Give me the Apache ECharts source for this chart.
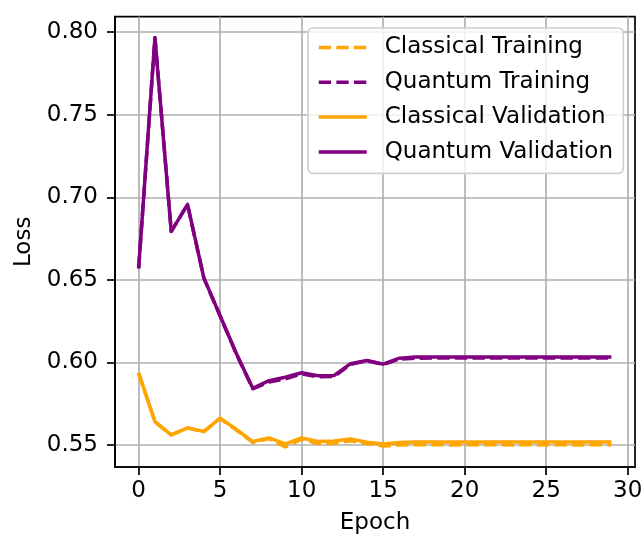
<!DOCTYPE html>
<html>
<head>
<meta charset="utf-8">
<script src="https://cdn.jsdelivr.net/npm/echarts@6/dist/echarts.min.js"></script>
<style>
html,body{margin:0;padding:0;background:#fff;}
#chart{width:644px;height:539px;}
</style>
</head>
<body>
<div id="chart"></div>
<script>
const epochs = Array.from({length: 30}, (_, i) => i);
const classicalTraining = [0.5934,0.5640,0.5560,0.5602,0.5580,0.5660,0.5590,0.5515,0.5538,0.5488,0.5535,0.5508,0.5510,0.5525,0.5508,0.5493,0.5500,0.5501,0.5501,0.5500,0.5501,0.5500,0.5501,0.5500,0.5501,0.5500,0.5501,0.5500,0.5501,0.5500];
const quantumTraining = [0.6570,0.7965,0.6795,0.6955,0.6510,0.6280,0.6050,0.5840,0.5880,0.5900,0.5930,0.5912,0.5915,0.5988,0.6010,0.5987,0.6020,0.6025,0.6026,0.6026,0.6026,0.6026,0.6026,0.6026,0.6026,0.6026,0.6026,0.6026,0.6026,0.6026];
const classicalValidation = [0.5936,0.5641,0.5561,0.5603,0.5581,0.5662,0.5593,0.5520,0.5542,0.5506,0.5542,0.5520,0.5523,0.5536,0.5516,0.5506,0.5514,0.5518,0.5518,0.5518,0.5518,0.5518,0.5518,0.5518,0.5518,0.5518,0.5518,0.5518,0.5518,0.5518];
const quantumValidation = [0.6570,0.7968,0.6792,0.6957,0.6512,0.6282,0.6052,0.5843,0.5889,0.5910,0.5937,0.5919,0.5921,0.5992,0.6011,0.5989,0.6025,0.6032,0.6033,0.6033,0.6033,0.6033,0.6033,0.6033,0.6033,0.6033,0.6033,0.6033,0.6033,0.6033];
const xTicks = [0,5,10,15,20,25,30];
const yTicks = [0.55,0.60,0.65,0.70,0.75,0.80];

const FONT = 'DejaVu Sans';
const FS = 23;
const LW = 3.5;
const DASH = [12.3, 5.3];

function pairs(arr){ return arr.map((v,i)=>[epochs[i], v]); }
function mk(name, data, color, dashed){
  return {
    name, type:'line', data: pairs(data), symbol:'none', showSymbol:false,
    lineStyle:{color, width:LW, type: dashed ? DASH : 'solid', cap:'butt', join:'round'},
    itemStyle:{color},
    animation:false, z: dashed ? 2 : 3
  };
}

const chart = echarts.init(document.getElementById('chart'), null, {renderer:'canvas'});
chart.setOption({
  animation:false,
  backgroundColor:'#ffffff',
  grid:{left:115, right:9, top:16.7, bottom:72, outerBoundsMode:'none', containLabel:false,
        show:true, borderColor:'#000', borderWidth:1.7, backgroundColor:'transparent'},
  xAxis:{
    type:'value', min:-1.45, max:30.45,
    name:'Epoch', nameLocation:'middle', nameGap:45,
    nameTextStyle:{fontFamily:FONT, fontSize:FS, color:'#000'},
    axisLine:{show:true, onZero:false, lineStyle:{color:'#000', width:1.7}},
    axisTick:{show:true, length:8, inside:false, customValues:xTicks, lineStyle:{color:'#000', width:1.7}},
    axisLabel:{customValues:xTicks, margin:13, fontFamily:FONT, fontSize:FS, color:'#000'},
    splitLine:{show:true, lineStyle:{color:'#b0b0b0', width:1.7}}
  },
  yAxis:{
    type:'value', min:0.5366, max:0.8094,
    name:'Loss', nameLocation:'middle', nameGap:77,
    nameTextStyle:{fontFamily:FONT, fontSize:FS, color:'#000'},
    axisLine:{show:true, onZero:false, lineStyle:{color:'#000', width:1.7}},
    axisTick:{show:true, length:8, inside:false, customValues:yTicks, lineStyle:{color:'#000', width:1.7}},
    axisLabel:{customValues:yTicks, margin:17, fontFamily:FONT, fontSize:FS, color:'#000', formatter:v=>v.toFixed(2)},
    splitLine:{show:true, lineStyle:{color:'#b0b0b0', width:1.7}}
  },
  legend:{
    orient:'vertical', left:308, top:28,
    itemWidth:48, itemHeight:14, itemGap:10.8,
    padding:[7.5,10.3,9.4,9],
    backgroundColor:'rgba(255,255,255,0.8)', borderColor:'#d0d0d0', borderWidth:1.7, borderRadius:5,
    itemStyle:{color:'transparent', borderWidth:0, opacity:0},
    lineStyle:{width:LW},
    textStyle:{fontFamily:FONT, fontSize:FS, color:'#000', lineHeight:24, padding:[0,0,0,13]},
    data:['Classical Training','Quantum Training','Classical Validation','Quantum Validation']
  },
  series:[
    mk('Classical Training', classicalTraining, '#FFA500', true),
    mk('Quantum Training', quantumTraining, '#800080', true),
    mk('Classical Validation', classicalValidation, '#FFA500', false),
    mk('Quantum Validation', quantumValidation, '#800080', false)
  ]
});
</script>
</body>
</html>
